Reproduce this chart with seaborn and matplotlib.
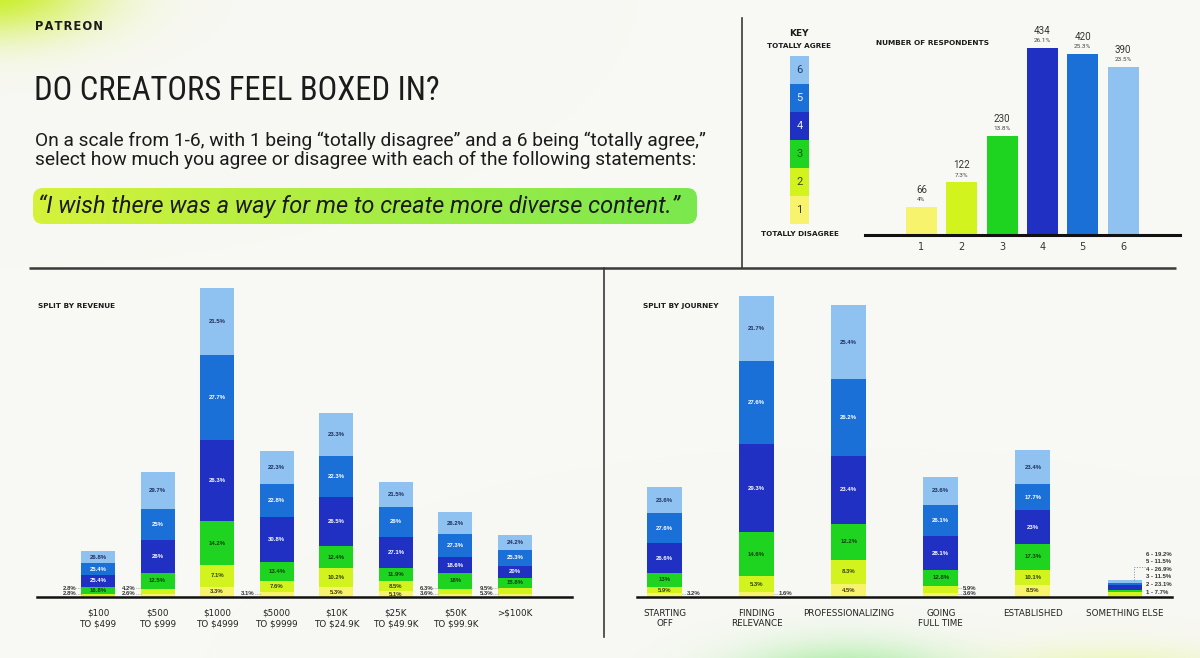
import numpy as np
import matplotlib
matplotlib.use("Agg")
import matplotlib.pyplot as plt
import seaborn as sns
from matplotlib.patches import FancyBboxPatch
from matplotlib.colors import ListedColormap
from matplotlib import font_manager as fm

# ---------------- data ----------------
levels = ["1", "2", "3", "4", "5", "6"]
respondents = [66, 122, 230, 434, 420, 390]
respondent_pct = ["4%", "7.3%", "13.8%", "26.1%", "25.3%", "23.5%"]

revenue_groups = ["$100\nTO $499", "$500\nTO $999", "$1000\nTO $4999", "$5000\nTO $9999",
                  "$10K\nTO $24.9K", "$25K\nTO $49.9K", "$50K\nTO $99.9K", ">$100K"]
revenue_n = [71, 192, 475, 224, 283, 177, 131, 95]
rev_pct_1 = [2.8, 2.6, 3.3, 3.1, 5.3, 5.1, 3.6, 5.3]
rev_pct_2 = [2.8, 4.2, 7.1, 7.6, 10.2, 8.5, 6.3, 9.5]
rev_pct_3 = [16.8, 12.5, 14.2, 13.4, 12.4, 11.9, 18, 15.8]
rev_pct_4 = [25.4, 26, 26.3, 30.8, 26.5, 27.1, 18.6, 20]
rev_pct_5 = [25.4, 25, 27.7, 22.8, 22.3, 26, 27.3, 25.3]
rev_pct_6 = [26.8, 29.7, 21.5, 22.3, 23.3, 21.5, 26.2, 24.2]

journey_groups = ["STARTING\nOFF", "FINDING\nRELEVANCE", "PROFESSIONALIZING",
                  "GOING\nFULL TIME", "ESTABLISHED", "SOMETHING ELSE"]
journey_n = [169, 463, 449, 185, 226, 26]
jour_pct_1 = [3.2, 1.6, 4.5, 3.6, 8.5, 7.7]
jour_pct_2 = [5.9, 5.3, 8.3, 5.9, 10.1, 23.1]
jour_pct_3 = [13, 14.6, 12.2, 12.8, 17.3, 11.5]
jour_pct_4 = [26.6, 29.3, 23.4, 28.1, 23, 26.9]
jour_pct_5 = [27.6, 27.6, 26.2, 26.1, 17.7, 11.5]
jour_pct_6 = [23.6, 21.7, 25.4, 23.6, 23.4, 19.2]

# ---------------- style ----------------
plt.rcParams["text.parse_math"] = False
COLORS = ["#f8f36c", "#d3f31f", "#1fd420", "#1f30c2", "#1b70d8", "#8fc1f1"]
SEG_TXT = ["#3b3a1c", "#33400c", "#0d3d0d", "#ffffff", "#ffffff", "#1d2f5c"]
KEY_TXT = ["#3b3a1c", "#3a4a10", "#135d13", "#e8ecff", "#e8f2ff", "#243a6b"]
INK = "#1b1b1b"

avail = {f.name for f in fm.fontManager.ttflist}
def pick(*names):
    for nm in names:
        if nm in avail:
            return nm
    return "DejaVu Sans"

F_TITLE = pick("Roboto Condensed", "Liberation Sans Narrow", "DejaVu Sans")
F_BODY = pick("Roboto", "Inter", "DejaVu Sans")
F_LAB = pick("Liberation Sans", "DejaVu Sans")
F_CAP = pick("DejaVu Sans")

W, H = 1200, 658
fig = plt.figure(figsize=(12, 6.58), dpi=100)

def rect(x0, y0, x1, y1):
    return [x0 / W, 1 - y1 / H, (x1 - x0) / W, (y1 - y0) / H]

# ---------------- background ----------------
bg = fig.add_axes([0, 0, 1, 1], zorder=0)
yy, xx = np.mgrid[0:H, 0:W]
img = np.ones((H, W, 3)) * np.array([248, 248, 244]) / 255.0
for cx, cy, sx, sy, col, a in [(-10, -10, 75, 32, (200, 238, 30), 0.95),
                               (845, 688, 75, 28, (110, 228, 100), 0.75),
                               (1110, 690, 85, 25, (215, 245, 90), 0.7)]:
    g = (a * np.exp(-(((xx - cx) / sx) ** 2 + ((yy - cy) / sy) ** 2) / 2))[..., None]
    img = img * (1 - g) + (np.array(col) / 255.0) * g
bg.imshow(img, extent=(0, W, H, 0), aspect="auto", interpolation="bilinear")

# quote box with gradient
box = FancyBboxPatch((33, 188), 664, 36, boxstyle="round,pad=0,rounding_size=10",
                     facecolor="none", edgecolor="none")
bg.add_patch(box)
gx = np.linspace(0, 1, 300)
left_c, right_c = np.array([214, 242, 58]) / 255, np.array([122, 232, 78]) / 255
grad = (left_c[None, :] * (1 - gx[:, None]) + right_c[None, :] * gx[:, None])[None, :, :]
im = bg.imshow(grad, extent=(33, 697, 224, 188), aspect="auto", interpolation="bilinear")
im.set_clip_path(box)

bg.set_xlim(0, W)
bg.set_ylim(H, 0)
bg.axis("off")

# separator lines
bg.plot([29, 1176], [268, 268], color="#3a3a3a", lw=1.8, solid_capstyle="butt")
bg.plot([742, 742], [18, 268], color="#3a3a3a", lw=1.2)
bg.plot([604, 604], [268, 637], color="#3a3a3a", lw=1.2)

# header texts
bg.text(35, 27, "P A T R E O N".replace(" ", "\u200a"), fontsize=8.3, fontweight="bold",
        color=INK, va="center", family=F_CAP)
bg.text(34, 91, "DO CREATORS FEEL BOXED IN?", fontsize=23.5, color=INK, va="center",
        family=F_TITLE)
bg.text(35, 141, "On a scale from 1-6, with 1 being \u201ctotally disagree\u201d and a 6 being \u201ctotally agree,\u201d",
        fontsize=13.8, color=INK, va="center", family=F_BODY)
bg.text(35, 160, "select how much you agree or disagree with each of the following statements:",
        fontsize=13.8, color=INK, va="center", family=F_BODY)
bg.text(38, 206, "\u201cI wish there was a way for me to create more diverse content.\u201d",
        fontsize=17, style="italic", color=INK, va="center", family=F_BODY)

bg.text(799, 33, "KEY", fontsize=6.5, fontweight="bold", color=INK, ha="center", va="center", family=F_CAP)
bg.text(799, 46, "TOTALLY AGREE", fontsize=5.2, fontweight="bold", color=INK, ha="center", va="center", family=F_CAP)
bg.text(800, 234, "TOTALLY DISAGREE", fontsize=5.2, fontweight="bold", color=INK, ha="center", va="center", family=F_CAP)
bg.text(876, 43, "NUMBER OF RESPONDENTS", fontsize=5.3, fontweight="bold", color=INK, va="center", family=F_CAP)
bg.text(38, 306, "SPLIT BY REVENUE", fontsize=5.3, fontweight="bold", color=INK, va="center", family=F_CAP)
bg.text(643, 306, "SPLIT BY JOURNEY", fontsize=5.3, fontweight="bold", color=INK, va="center", family=F_CAP)

# ---------------- key ----------------
axk = fig.add_axes(rect(790, 56, 809, 224), zorder=2)
key_vals = np.array([[6], [5], [4], [3], [2], [1]])
sns.heatmap(key_vals, cmap=ListedColormap(COLORS), vmin=0.5, vmax=6.5, cbar=False,
            xticklabels=False, yticklabels=False, ax=axk, linewidths=0)
for r, v in enumerate(key_vals[:, 0]):
    axk.text(0.5, r + 0.5, levels[v - 1], ha="center", va="center", fontsize=8,
             color=KEY_TXT[v - 1], family=F_BODY)

# ---------------- top bar chart ----------------
axt = fig.add_axes(rect(865, 20, 1180, 235), zorder=2)
axt.patch.set_alpha(0)
sns.barplot(x=levels, y=respondents, hue=levels, palette=COLORS, order=levels,
            saturation=1, width=0.77, linewidth=0, legend=False, ax=axt)
T_YPX = 0.4316
axt.set_ylim(0, 215 / T_YPX)
axt.set_xlim(-1.40, 6.41)
for i, (v, p) in enumerate(zip(respondents, respondent_pct)):
    axt.text(i, v + 17 / T_YPX, str(v), ha="center", va="center", fontsize=7, color="#333333", family=F_BODY)
    axt.text(i, v + 7 / T_YPX, p, ha="center", va="center", fontsize=4.6, color="#444444", family=F_BODY)
for s in ["left", "right", "top"]:
    axt.spines[s].set_visible(False)
axt.spines["bottom"].set_linewidth(2.2)
axt.spines["bottom"].set_color("#111111")
axt.set_yticks([])
axt.set_xlabel("")
axt.set_ylabel("")
axt.tick_params(axis="x", length=0, pad=5, labelsize=7, labelcolor="#333333")

# ---------------- stacked charts ----------------
YPX = 0.65

def draw_stack(ax, groups, n, pcts, xpx, bar_w, outside, side, listed=()):
    P = np.array(pcts, float)
    nn = np.array(n, float)
    seg = P / P.sum(axis=0) * nn
    cum = np.cumsum(seg, axis=0)
    for k in range(5, -1, -1):
        sns.barplot(x=groups, y=cum[k], order=groups, color=COLORS[k], saturation=1,
                    width=bar_w, linewidth=0, ax=ax, errorbar=None)
    half = bar_w / 2
    for i in range(len(groups)):
        if i in listed:
            xs = i + half + 4 / xpx
            for k in range(6):
                y = (5 + 7.6 * k) / YPX
                ax.text(xs, y, f"{levels[k]} - {P[k, i]:g}%", ha="left", va="center",
                        fontsize=4.3, fontweight="bold", color="#333333", family=F_LAB)
            xl = i + half - 8 / xpx
            ax.plot([xl, xl, xs - 1 / xpx], [nn[i], 30 / YPX, 30 / YPX], ls=":",
                    lw=0.7, color="#6f8fb0")
            continue
        out = outside.get(i, [])
        for k in range(6):
            lab = f"{P[k, i]:g}%"
            if k in out:
                rank = out.index(k)
                y = (3.5 + 5.5 * rank) / YPX
                if side == "left":
                    xe, xt, ha = i - half, i - half - 5 / xpx, "right"
                else:
                    xe, xt, ha = i + half, i + half + 5 / xpx, "left"
                ax.plot([xe, xt], [y, y], ls=":", lw=0.6, color="#888888")
                ax.text(xt, y, lab, ha=ha, va="center", fontsize=4.3, fontweight="bold",
                        color="#333333", family=F_LAB)
            else:
                ax.text(i, cum[k, i] - seg[k, i] / 2, lab, ha="center", va="center", fontsize=4.3,
                        fontweight="bold", color=SEG_TXT[k], family=F_LAB)

def style_axis(ax):
    ax.patch.set_alpha(0)
    for s in ["left", "right", "top"]:
        ax.spines[s].set_visible(False)
    ax.spines["bottom"].set_linewidth(1.8)
    ax.spines["bottom"].set_color("#111111")
    ax.set_yticks([])
    ax.set_xlabel("")
    ax.set_ylabel("")
    ax.tick_params(axis="x", length=0, pad=8.5, labelsize=6.3, labelcolor="#222222")
    for t in ax.get_xticklabels():
        t.set_family(F_CAP)

# revenue
axl = fig.add_axes(rect(37, 270, 572, 597), zorder=2)
draw_stack(axl, revenue_groups, revenue_n,
           [rev_pct_1, rev_pct_2, rev_pct_3, rev_pct_4, rev_pct_5, rev_pct_6],
           59.6, 0.57, {0: [0, 1], 1: [0, 1], 3: [0], 6: [0, 1], 7: [0, 1]}, "left")
axl.set_ylim(0, 327 / YPX)
axl.set_xlim((37 - 98) / 59.6, 7 + (572 - 515) / 59.6)
style_axis(axl)

# journey
axr = fig.add_axes(rect(637, 270, 1172, 597), zorder=2)
draw_stack(axr, journey_groups, journey_n,
           [jour_pct_1, jour_pct_2, jour_pct_3, jour_pct_4, jour_pct_5, jour_pct_6],
           92.1, 0.38, {0: [0], 1: [0], 3: [0, 1]}, "right", listed=(5,))
axr.set_ylim(0, 327 / YPX)
axr.set_xlim((637 - 664.5) / 92.1, 5 + (1172 - 1125) / 92.1)
style_axis(axr)

fig.savefig("out.png", dpi=100)
